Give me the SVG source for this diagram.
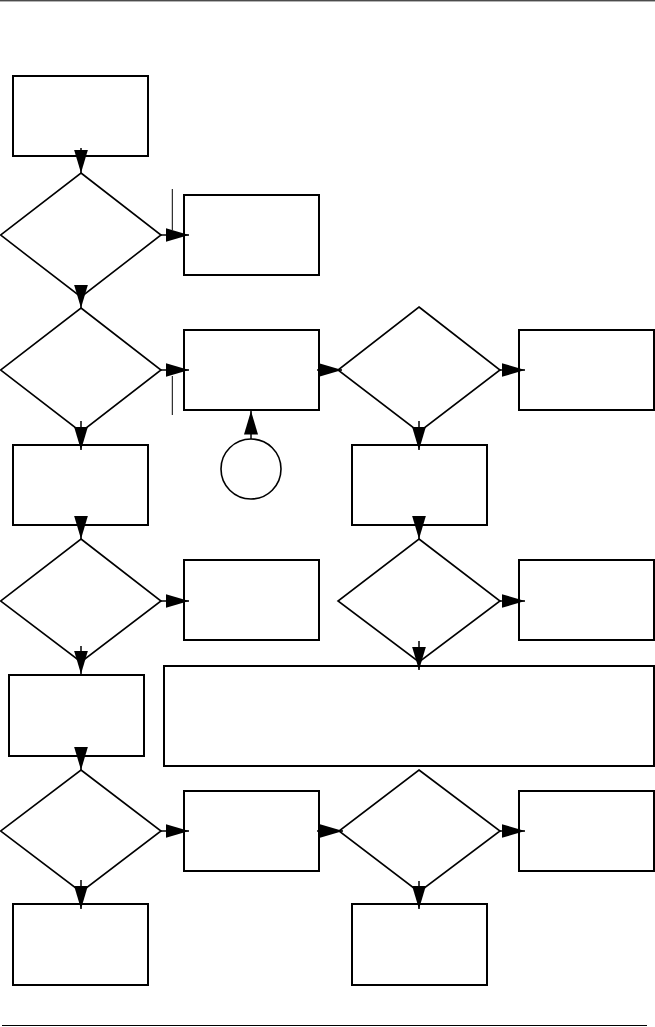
<svg xmlns="http://www.w3.org/2000/svg" width="655" height="1027" viewBox="0 0 655 1027">
<style>
.box{fill:#fff;stroke:#000;stroke-width:2}
.dia{fill:#fff;stroke:#000;stroke-width:1.6}
.con{fill:none;stroke:#000;stroke-width:1.5;marker-end:url(#ah)}
.thin{fill:none;stroke:#000;stroke-width:1}
</style>
<defs>
<marker id="ah" markerUnits="userSpaceOnUse" markerWidth="25" markerHeight="16" refX="23.5" refY="7" orient="auto">
<path d="M0,0 L23.5,7 L0,14 z" fill="#000"/>
</marker>
</defs>
<g id="rules">
<line x1="0" y1="0.8" x2="655" y2="0.8" class="thin" stroke-width="1.5"/>
<line x1="2" y1="1025.5" x2="647" y2="1025.5" class="thin" stroke-width="1.3"/>
<line x1="172.3" y1="189" x2="172.3" y2="230" class="thin"/>
<line x1="172.3" y1="376" x2="172.3" y2="415" class="thin"/>
</g>
<g id="b1"><rect class="box" x="13" y="76" width="135" height="80"/></g>
<g id="d1"><polygon class="dia" points="81,173 161,235 81,297 0.5,235"/></g>
<g id="b2"><rect class="box" x="184" y="195" width="135" height="80"/></g>
<g id="d2"><polygon class="dia" points="81,308 161,370 81,432 0.5,370"/></g>
<g id="b3"><rect class="box" x="184" y="330" width="135" height="80"/></g>
<g id="c1"><circle cx="251" cy="469" r="30" fill="#fff" stroke="#000" stroke-width="1.6"/></g>
<g id="d3"><polygon class="dia" points="419,307 500,370 419,432 338,370"/></g>
<g id="b4"><rect class="box" x="519" y="330" width="135" height="80"/></g>
<g id="b5"><rect class="box" x="13" y="445" width="135" height="80"/></g>
<g id="b6"><rect class="box" x="352" y="445" width="135" height="80"/></g>
<g id="d4"><polygon class="dia" points="81,539 161,601 81,662 0.5,601"/></g>
<g id="b7"><rect class="box" x="184" y="560" width="135" height="80"/></g>
<g id="d5"><polygon class="dia" points="419,539 500,601 419,662 338,601"/></g>
<g id="b8"><rect class="box" x="519" y="560" width="135" height="80"/></g>
<g id="b9"><rect class="box" x="9" y="675" width="135" height="81"/></g>
<g id="b10"><rect class="box" x="164" y="666" width="490" height="100"/></g>
<g id="d6"><polygon class="dia" points="81,770 161,831 81,892 0.5,831"/></g>
<g id="b11"><rect class="box" x="184" y="791" width="135" height="80"/></g>
<g id="d7"><polygon class="dia" points="419,770 500,831 419,892 339,831"/></g>
<g id="b12"><rect class="box" x="519" y="791" width="135" height="80"/></g>
<g id="b13"><rect class="box" x="13" y="904" width="135" height="81"/></g>
<g id="b14"><rect class="box" x="352" y="904" width="135" height="81"/></g>
<g id="connectors">
<line class="con" x1="81" y1="148" x2="81" y2="173"/>
<line class="con" x1="161" y1="235" x2="189" y2="235"/>
<line class="con" x1="81" y1="286" x2="81" y2="308"/>
<line class="con" x1="161" y1="370" x2="189" y2="370"/>
<line class="con" x1="317" y1="370" x2="342" y2="370"/>
<line class="con" x1="251" y1="439" x2="251" y2="411"/>
<line class="con" x1="500" y1="370" x2="525" y2="370"/>
<line class="con" x1="81" y1="421" x2="81" y2="450"/>
<line class="con" x1="419" y1="421" x2="419" y2="450"/>
<line class="con" x1="81" y1="516" x2="81" y2="539"/>
<line class="con" x1="419" y1="516" x2="419" y2="539"/>
<line class="con" x1="161" y1="601" x2="189" y2="601"/>
<line class="con" x1="500" y1="601" x2="525" y2="601"/>
<line class="con" x1="81" y1="646" x2="81" y2="674"/>
<line class="con" x1="419" y1="641" x2="419" y2="670"/>
<line class="con" x1="81" y1="747" x2="81" y2="770"/>
<line class="con" x1="161" y1="831" x2="189" y2="831"/>
<line class="con" x1="317" y1="831" x2="343" y2="831"/>
<line class="con" x1="500" y1="831" x2="525" y2="831"/>
<line class="con" x1="81" y1="880" x2="81" y2="909"/>
<line class="con" x1="419" y1="881" x2="419" y2="909"/>
</g>
</svg>
